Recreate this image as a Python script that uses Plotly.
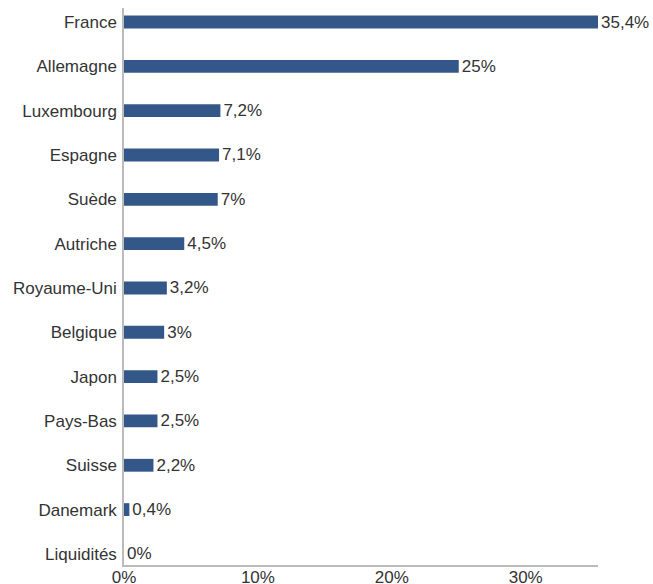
import plotly.graph_objects as go

categories = ["France", "Allemagne", "Luxembourg", "Espagne", "Suède", "Autriche",
              "Royaume-Uni", "Belgique", "Japon", "Pays-Bas", "Suisse", "Danemark", "Liquidités"]
values = [35.4, 25, 7.2, 7.1, 7, 4.5, 3.2, 3, 2.5, 2.5, 2.2, 0.4, 0]
tick_vals = [0, 10, 20, 30]
tick_text = ["0%", "10%", "20%", "30%"]

labels = [(f"{v:g}").replace(".", ",") + "%" for v in values]

fig = go.Figure(go.Bar(
    y=categories, x=values, orientation="h",
    marker=dict(color="#34578a", line=dict(width=0)),
    width=0.29,
    text=labels, textposition="outside", cliponaxis=False,
    constraintext="none",
    textfont=dict(size=17, color="#333333", family="Liberation Sans"),
    outsidetextfont=dict(size=17, color="#333333", family="Liberation Sans"),
    hoverinfo="skip",
))

fig.update_layout(
    width=653, height=584,
    margin=dict(l=124, r=55, t=8, b=19, autoexpand=False),
    paper_bgcolor="white", plot_bgcolor="white",
    font=dict(family="Liberation Sans", size=17, color="#333333"),
    showlegend=False,
    xaxis=dict(range=[0, 35.4], tickvals=tick_vals, ticktext=tick_text,
               showgrid=False, zeroline=False, showline=True, linecolor="#bbbbbb",
               linewidth=1.5, ticks="", ticklen=0, tickfont=dict(size=17),
               automargin=False, ticklabelstandoff=-4),
    yaxis=dict(type="category", categoryorder="array", categoryarray=categories,
               range=[12.25, -0.316], showgrid=False, zeroline=False, showline=True,
               linecolor="#bbbbbb", linewidth=1.5, ticks="", ticklen=0,
               tickfont=dict(size=17), automargin=False, ticklabelstandoff=2),
)

fig.write_html("out.html", config={"displayModeBar": False},
               post_script="document.body.style.margin='0';document.body.style.overflow='hidden';")
